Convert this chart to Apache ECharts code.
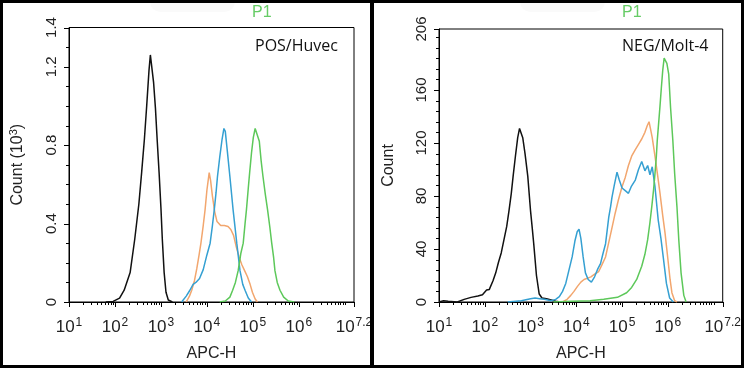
<!DOCTYPE html>
<html><head><meta charset="utf-8">
<script src="https://cdn.jsdelivr.net/npm/echarts@6/dist/echarts.min.js"></script>
<style>html,body{margin:0;padding:0;background:#fff;}#c{width:744px;height:368px;}</style>
</head><body><div id="c"></div>
<script>
// x values are log10(APC-H); y values are counts
const xMajorTicks = [1, 2, 3, 4, 5, 6, 7.2];
const xMinorTicks = [];
for (let d = 1; d <= 6; d++) for (let k = 2; k <= 9; k++) xMinorTicks.push(d + Math.log10(k));
xMinorTicks.push(7);

const leftYTicks = [0, 0.4, 0.8, 1.2, 1.4];
const rightYTicks = [0, 40, 80, 120, 160, 206];

// Left panel: POS/Huvec, counts in thousands
const leftBlack = [[1.80,0],[1.96,0.003],[2.10,0.02],[2.20,0.06],[2.33,0.15],[2.43,0.32],[2.52,0.50],[2.58,0.66],[2.64,0.83],[2.69,1.0],[2.74,1.18],[2.77,1.26],[2.80,1.26],[2.84,1.12],[2.88,0.99],[2.92,0.82],[2.96,0.66],[3.00,0.48],[3.03,0.32],[3.07,0.15],[3.11,0.05],[3.16,0.01],[3.25,0]];
const leftOrange = [[3.55,0],[3.62,0.03],[3.67,0.06],[3.73,0.11],[3.78,0.17],[3.83,0.24],[3.87,0.30],[3.92,0.39],[3.96,0.47],[4.00,0.57],[4.05,0.66],[4.08,0.62],[4.12,0.54],[4.17,0.46],[4.22,0.41],[4.30,0.39],[4.38,0.39],[4.46,0.385],[4.52,0.37],[4.58,0.34],[4.64,0.28],[4.70,0.23],[4.76,0.19],[4.82,0.16],[4.88,0.13],[4.94,0.09],[4.99,0.05],[5.05,0.015],[5.10,0]];
const leftBlue = [[3.45,0],[3.55,0.03],[3.63,0.06],[3.70,0.09],[3.76,0.10],[3.84,0.12],[3.92,0.165],[4.00,0.24],[4.07,0.30],[4.12,0.39],[4.16,0.47],[4.20,0.56],[4.23,0.64],[4.28,0.74],[4.33,0.83],[4.37,0.885],[4.40,0.87],[4.44,0.78],[4.50,0.64],[4.57,0.47],[4.65,0.30],[4.72,0.16],[4.78,0.09],[4.83,0.06],[4.90,0.02],[4.97,0]];
const leftGreen = [[4.28,0],[4.40,0.005],[4.50,0.025],[4.56,0.06],[4.62,0.10],[4.68,0.16],[4.74,0.25],[4.79,0.30],[4.83,0.40],[4.86,0.47],[4.90,0.58],[4.93,0.66],[4.97,0.76],[5.01,0.84],[5.05,0.885],[5.09,0.88],[5.14,0.82],[5.18,0.72],[5.22,0.64],[5.27,0.55],[5.32,0.47],[5.37,0.38],[5.41,0.30],[5.45,0.23],[5.48,0.16],[5.53,0.10],[5.59,0.06],[5.67,0.025],[5.77,0.005],[5.90,0]];

// Right panel: NEG/Molt-4, counts
const rightBlack = [[1.0,0],[1.1,1],[1.2,0.5],[1.4,0],[1.55,2],[1.7,3.5],[1.85,4.5],[1.95,5.5],[2.04,9],[2.10,9.5],[2.18,16],[2.24,22],[2.30,30],[2.36,37],[2.42,47],[2.48,57],[2.53,69],[2.58,82],[2.62,95],[2.67,110],[2.72,124],[2.76,131],[2.79,130],[2.83,124],[2.88,112],[2.94,95],[3.00,69],[3.04,55],[3.07,44],[3.13,20],[3.19,6],[3.25,3],[3.35,2.5],[3.45,1.5],[3.55,0.5],[3.65,0]];
const rightOrange = [[3.70,0],[3.80,2],[3.88,5],[3.95,8],[4.03,12],[4.10,15],[4.17,17],[4.25,18],[4.32,19],[4.40,21],[4.49,23],[4.56,28],[4.64,34],[4.71,45],[4.78,56],[4.85,67],[4.92,77],[5.00,87],[5.07,94],[5.14,103],[5.21,110],[5.29,115],[5.36,119],[5.43,123],[5.50,128],[5.55,133],[5.59,136],[5.62,131],[5.66,124],[5.72,110],[5.78,95],[5.83,82],[5.89,65],[5.94,52],[6.00,33],[6.05,17],[6.09,7],[6.15,1],[6.20,0]];
const rightBlue = [[2.5,0],[2.8,1],[3.0,2.5],[3.1,3],[3.2,2.5],[3.3,2],[3.45,1],[3.55,2],[3.63,4],[3.70,8],[3.77,14],[3.84,24],[3.91,34],[3.97,46],[4.02,53],[4.06,55],[4.10,48],[4.15,34],[4.20,22],[4.26,17],[4.33,15],[4.40,19],[4.47,25],[4.53,29],[4.58,36],[4.64,44],[4.71,64],[4.75,72],[4.78,79],[4.83,88],[4.89,98],[4.94,92],[5.00,86],[5.07,84],[5.14,82],[5.20,87],[5.29,92],[5.36,100],[5.43,106],[5.50,99],[5.56,103],[5.61,96],[5.66,102],[5.72,87],[5.79,62],[5.85,48],[5.90,34],[5.97,14],[6.04,3],[6.12,0]];
const rightGreen = [[3.5,0],[3.9,0.5],[4.3,1],[4.6,2],[4.9,3.5],[5.1,7],[5.21,11],[5.32,17],[5.43,27],[5.50,36],[5.56,47],[5.61,60],[5.65,72],[5.69,85],[5.72,97],[5.75,110],[5.77,122],[5.80,135],[5.83,148],[5.86,162],[5.89,175],[5.92,184],[5.95,185],[5.98,180],[6.02,172],[6.06,147],[6.11,122],[6.15,97],[6.20,72],[6.24,47],[6.29,22],[6.35,5],[6.40,0]];

const COLORS = {black: '#111111', orange: '#f2a66e', blue: '#35a0d2', green: '#5dc85a'};
const FONT = 'Liberation Sans, Arial, sans-serif';

const leftMinorY = []; for (let v = 0; v <= 1.4001; v += 0.1) leftMinorY.push(+v.toFixed(2));
const rightMinorY = []; for (let v = 0; v <= 206; v += 8) rightMinorY.push(v);

const GRIDS = [
  {left: 69, top: 27.5, width: 285, height: 274.5},
  {left: 439, top: 29, width: 286, height: 273}
];

function xAxis(gridIndex) {
  return {
    type: 'value', gridIndex, min: 1, max: 7.2, position: 'bottom',
    axisLine: {show: true, onZero: false, lineStyle: {color: '#000', width: 1}},
    axisTick: {show: false},
    splitLine: {show: false},
    axisLabel: {
      customValues: xMajorTicks, margin: 15, color: '#222',
      formatter: v => '{a|10}{b|' + (Math.abs(v - 7.2) < 1e-6 ? '7.2' : Math.round(v)) + '}',
      rich: {a: {fontSize: 17, fontFamily: FONT, color: '#222'}, b: {fontSize: 12, fontFamily: FONT, color: '#222', padding: [0, 0, 9, 1]}}
    },
    name: 'APC-H', nameLocation: 'middle', nameGap: 44,
    nameTextStyle: {fontSize: 16, fontFamily: FONT, color: '#222'}
  };
}

function yAxis(gridIndex, max, ticks, fmt, name, nameGap) {
  return {
    type: 'value', gridIndex, min: 0, max: max, position: 'left',
    axisLine: {show: true, onZero: false, lineStyle: {color: '#000', width: 1}},
    axisTick: {show: false},
    splitLine: {show: false},
    axisLabel: {customValues: ticks, rotate: 90, margin: 10, fontSize: 15, fontFamily: FONT, color: '#222', formatter: fmt},
    name: name, nameLocation: 'middle', nameGap: nameGap, nameRotate: 90,
    nameTextStyle: {fontSize: 16, fontFamily: FONT, color: '#222',
      rich: {n: {fontSize: 16, fontFamily: FONT, color: '#222'}, s: {fontSize: 11, fontFamily: FONT, color: '#222', padding: [0, 0, 8, 0]}}}
  };
}

// tick marks drawn through the axes' own coordinate mapping
// kind: 0 x-minor, 1 y-minor, 2 x-major, 3 y-major
function tickSeries(gi, yMajor, yMinor) {
  const data = xMinorTicks.map(v => [v, 0, 0])
    .concat(yMinor.map(v => [1, v, 1]))
    .concat(xMajorTicks.map(v => [v, 0, 2]))
    .concat(yMajor.map(v => [1, v, 3]));
  return {
    type: 'custom', xAxisIndex: gi, yAxisIndex: gi, clip: false, silent: true, z: 4,
    data,
    renderItem: (params, api) => {
      const p = api.coord([api.value(0), api.value(1)]);
      const kind = api.value(2);
      const len = kind >= 2 ? 5 : 3;
      if (kind === 1 || kind === 3) {
        const y = Math.round(p[1]) + 0.5;
        return {type: 'line', shape: {x1: p[0] - len, y1: y, x2: p[0], y2: y}, style: {stroke: '#000', lineWidth: 1}};
      }
      const x = Math.round(p[0]) + 0.5;
      return {type: 'line', shape: {x1: x, y1: p[1], x2: x, y2: p[1] + len}, style: {stroke: '#000', lineWidth: 1}};
    }
  };
}

function line(data, color, gi) {
  return {type: 'line', data, xAxisIndex: gi, yAxisIndex: gi, showSymbol: false, symbol: 'none',
    lineStyle: {color, width: 1.5}, silent: true, animation: false, z: 3};
}

const chart = echarts.init(document.getElementById('c'), null, {renderer: 'canvas'});
chart.setOption({
  animation: false,
  backgroundColor: '#fff',
  grid: GRIDS.map(g => Object.assign({show: true, borderColor: '#000', borderWidth: 1, backgroundColor: 'transparent'}, g)),
  xAxis: [xAxis(0), xAxis(1)],
  yAxis: [
    yAxis(0, 1.4, leftYTicks, v => v === 0 ? '0' : v.toFixed(1), '{n|Count (10}{s|3}{n|)}', 42),
    yAxis(1, 206, rightYTicks, v => String(v), 'Count', 42)
  ],
  series: [
    line(leftBlack, COLORS.black, 0), line(leftOrange, COLORS.orange, 0), line(leftBlue, COLORS.blue, 0), line(leftGreen, COLORS.green, 0),
    line(rightBlack, COLORS.black, 1), line(rightOrange, COLORS.orange, 1), line(rightBlue, COLORS.blue, 1), line(rightGreen, COLORS.green, 1),
    tickSeries(0, leftYTicks, leftMinorY), tickSeries(1, rightYTicks, rightMinorY)
  ],
  graphic: [
    {type: 'rect', shape: {x: 150, y: -10, width: 85, height: 22, r: 10}, style: {fill: 'rgba(0,0,0,0.018)', shadowBlur: 18, shadowColor: 'rgba(0,0,0,0.05)'}, z: 1},
    {type: 'rect', shape: {x: 520, y: -10, width: 85, height: 22, r: 10}, style: {fill: 'rgba(0,0,0,0.018)', shadowBlur: 18, shadowColor: 'rgba(0,0,0,0.05)'}, z: 1},
    {type: 'text', left: 252, top: 5, style: {text: 'P1', fill: '#66cc66', font: '16px ' + FONT}},
    {type: 'text', left: 622, top: 5, style: {text: 'P1', fill: '#66cc66', font: '16px ' + FONT}},
    {type: 'text', left: 255, top: 38, style: {text: 'POS/Huvec', fill: '#111', font: '16px "Open Sans", sans-serif'}},
    {type: 'text', left: 622, top: 38, style: {text: 'NEG/Molt-4', fill: '#111', font: '16px "Open Sans", sans-serif'}},
    {type: 'rect', shape: {x: 1.5, y: 1.5, width: 741, height: 365}, style: {fill: 'none', stroke: '#000', lineWidth: 3}, z: 10},
    {type: 'rect', shape: {x: 370, y: 0, width: 4, height: 368}, style: {fill: '#000'}, z: 10}
  ]
});
</script></body></html>
